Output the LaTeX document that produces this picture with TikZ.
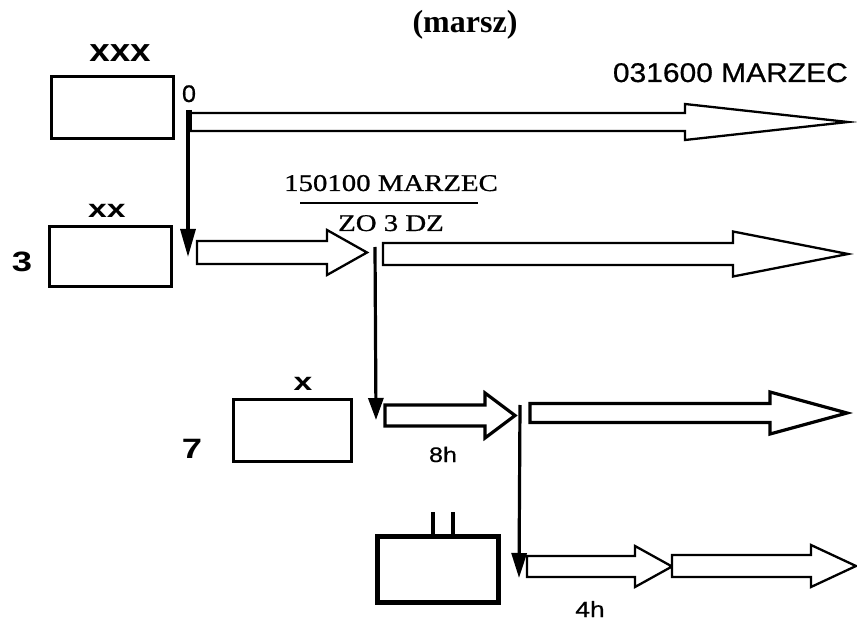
\documentclass[tikz,border=0pt]{standalone}
\usepackage{fontspec}
\usepackage{graphicx}
\setmainfont{Liberation Serif}
\setsansfont{Liberation Sans}
\newfontfamily\heavyserif[FakeBold=0.8]{Liberation Serif}
\newfontfamily\heavysans[FakeBold=0.6]{Liberation Sans}
\usetikzlibrary{arrows.meta}
\newcommand\fsz[1]{\fontsize{#1}{#1}\selectfont}
% block arrow: start x, head start x, tip x, centre y, shaft half, head half, line width
\newcommand\blkarrow[7]{%
  \draw[line width=#7, line join=miter, fill=white]
    (#1,#4-#5) -- (#2,#4-#5) -- (#2,#4-#6) -- (#3,#4) -- (#2,#4+#6) -- (#2,#4+#5) -- (#1,#4+#5) -- cycle;}
\tikzset{
  unitbox/.style={draw, line width=3.2pt, inner sep=0pt, fill=white},
  sanslab/.style={font=\heavysans, inner sep=0pt},
  boldlab/.style={font=\sffamily\bfseries, inner sep=0pt},
  seriflab/.style={font=\heavyserif, inner sep=0pt},
  downarrow/.style={line width=3.2pt, -{Triangle[length=#1,width=15pt]}},
}
\begin{document}
\begin{tikzpicture}[x=1pt,y=-1pt]
\useasboundingbox (0,0) rectangle (857,620);
% boxes
\node[unitbox, minimum width=122pt, minimum height=62pt] (b1) at (112.5,107.5) {};
\node[unitbox, minimum width=122pt, minimum height=60pt] (b2) at (110.5,256.5) {};
\node[unitbox, minimum width=118pt, minimum height=62pt] (b3) at (292.5,430.5) {};
\node[unitbox, line width=5pt, minimum width=121pt, minimum height=66pt] (b4) at (438,569.5) {};
\coordinate (p1) at (433,512);
\coordinate (p2) at (453,512);
\draw[line width=3.2pt] (p1) -- (p1 |- b4.north);
\draw[line width=3.2pt] (p2) -- (p2 |- b4.north);
% unit labels
\node[boldlab, anchor=base] (t1) at (120,62) {\fsz{32}\scalebox{1.15}[1]{xxx}};
\node[boldlab, anchor=base] (t2) at (107,218) {\fsz{25}\scalebox{1.35}[1]{xx}};
\node[boldlab, anchor=base] (t3) at (303,391) {\fsz{25}\scalebox{1.35}[1]{x}};
\node[boldlab, anchor=base] (n3) at (22,272) {\fsz{28}\scalebox{1.3}[1]{3}};
\node[boldlab, anchor=base] (n7) at (192,458) {\fsz{28}\scalebox{1.3}[1]{7}};
\node[sanslab, anchor=base] (n0) at (189,102) {\fsz{24}\scalebox{1.05}[1]{0}};
\node[sanslab, anchor=base] (h8) at (443,462) {\fsz{21}\scalebox{1.2}[1]{8h}};
\node[sanslab, anchor=base] (h4) at (590,617) {\fsz{22}\scalebox{1.2}[1]{4h}};
% titles
\node[inner sep=0pt, font=\rmfamily\bfseries, anchor=base] (title) at (465,33) {\fsz{32}(marsz)};
\node[sanslab, anchor=base east] (m1) at (848,82) {\fsz{27}\scalebox{1.11}[1]{031600 MARZEC}};
\node[seriflab, anchor=base] (f1) at (391,191) {\fsz{24}\scalebox{1.2}[1]{150100 MARZEC}};
\node[seriflab, anchor=base] (f2) at (391,231) {\fsz{24}\scalebox{1.2}[1]{ZO 3 DZ}};
\draw[line width=1.8pt] (300,203) -- (478,203);
% block arrows
\blkarrow{190}{685}{848}{122}{9}{18}{2.3pt}
\blkarrow{197}{327}{367}{252.5}{11.5}{22.5}{2.3pt}
\blkarrow{383}{733}{848}{254}{11}{22.5}{2.3pt}
\blkarrow{385}{485}{515}{415.5}{10.5}{22.5}{3.2pt}
\blkarrow{530}{770}{847}{413}{9.5}{21}{3.2pt}
\blkarrow{527}{635}{672}{566.5}{10.5}{20.5}{2.3pt}
\blkarrow{672}{811}{856}{566}{11}{21}{2.3pt}
% command lines
\coordinate (v1a) at (188,110);
\coordinate (v1b) at (188,257);
\coordinate (v2a) at (375,247);
\coordinate (v2b) at (376,420);
\coordinate (v3a) at (520,405);
\coordinate (v3b) at (519,578);
\draw[line width=6pt] (189,110) -- (189,131);
\draw[downarrow=28pt] (v1a) -- (v1b);
\draw[downarrow=22pt] (v2a) -- (v2b);
\draw[downarrow=25pt] (v3a) -- (v3b);
\end{tikzpicture}
\end{document}
